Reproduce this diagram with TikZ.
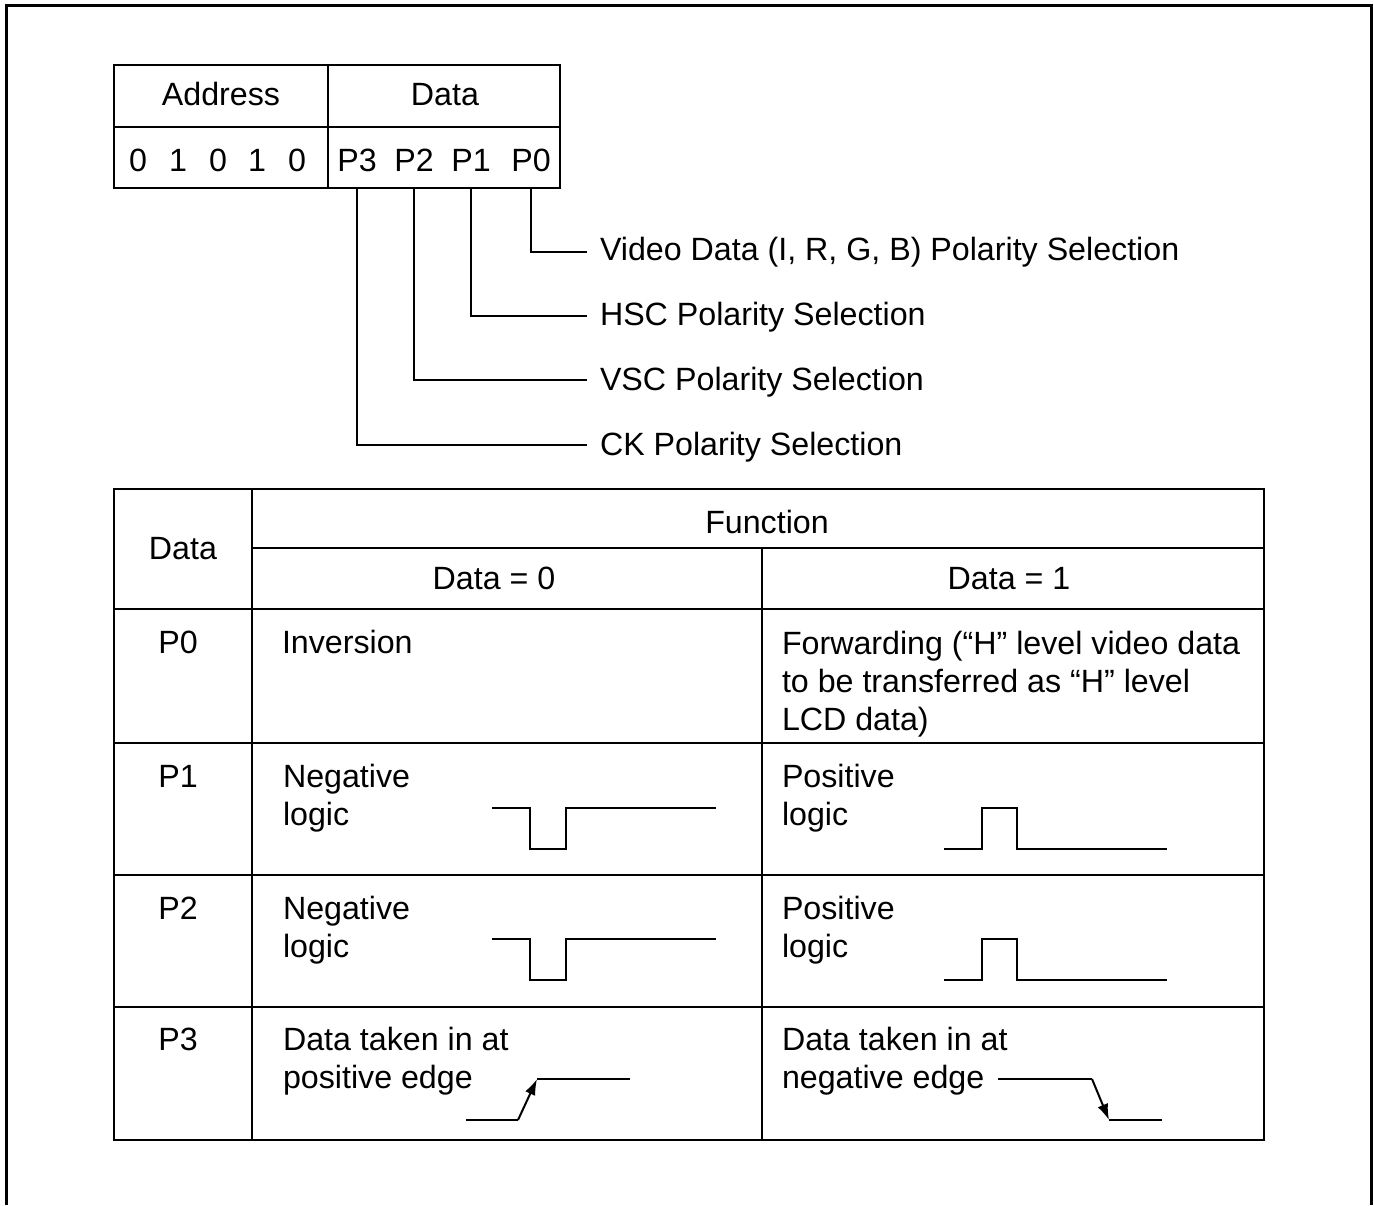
\documentclass[tikz,border=0pt]{standalone}
\usepackage{fontspec}
\setmainfont{Liberation Sans}
\usetikzlibrary{arrows.meta}
\begin{document}
\begin{tikzpicture}[x=0.5pt,y=-0.5pt,
  every node/.style={font=\fontsize{16.1}{19}\selectfont, inner sep=0pt, outer sep=0pt},
  txt/.style={anchor=base},
  ltxt/.style={anchor=base west, align=left},
  frame/.style={line width=1.5pt},
  grid/.style={line width=1pt},
  lead/.style={line width=0.7pt},
  wave/.style={line width=1pt},
  edge/.style={line width=1pt, -{Latex[length=8pt,width=5.5pt]}}]
\useasboundingbox (0,0) rectangle (1374,1205);

% outer frame, open at the bottom
\draw[frame] (6,1205) -- (6,5) -- (1371,5) -- (1371,1205);

% ---- register layout ----
\draw[grid] (114,65) rectangle (560,188);
\draw[grid] (114,127) -- (560,127);
\draw[grid] (328,65) -- (328,188);
\node[txt] (hAddr) at (221,105) {Address};
\node[txt] (hData) at (445,105) {Data};
\node[txt] (a4) at (138,171) {0};
\node[txt] (a3) at (178,171) {1};
\node[txt] (a2) at (218,171) {0};
\node[txt] (a1) at (257,171) {1};
\node[txt] (a0) at (297,171) {0};
\node[txt] (d3) at (357,171) {P3};
\node[txt] (d2) at (414,171) {P2};
\node[txt] (d1) at (471,171) {P1};
\node[txt] (d0) at (531,171) {P0};
\coordinate (regbot) at (0,188);

% ---- bit descriptions ----
\node[ltxt] (l0) at (600,260) {Video Data (I, R, G, B) Polarity Selection};
\node[ltxt] (l1) at (600,325) {HSC Polarity Selection};
\node[ltxt] (l2) at (600,390) {VSC Polarity Selection};
\node[ltxt] (l3) at (600,455) {CK Polarity Selection};
\draw[lead] (d0 |- regbot) |- ([shift={(-13,-8)}]l0.base west);
\draw[lead] (d1 |- regbot) |- ([shift={(-13,-9)}]l1.base west);
\draw[lead] (d2 |- regbot) |- ([shift={(-13,-10)}]l2.base west);
\draw[lead] (d3 |- regbot) |- ([shift={(-13,-10)}]l3.base west);

% ---- function table grid ----
\draw[grid] (114,489) rectangle (1264,1140);
\draw[grid] (252,489) -- (252,1140);
\draw[grid] (762,548) -- (762,1140);
\draw[grid] (252,548) -- (1264,548);
\foreach \yy in {609,743,875,1007} \draw[grid] (114,\yy) -- (1264,\yy);

% header
\node[txt] (tData) at (183,559) {Data};
\node[txt] (tFunc) at (767,533) {Function};
\node[txt] (tZero) at (494,589) {Data = 0};
\node[txt] (tOne) at (1009,589) {Data = 1};

% row labels
\node[txt] (r0) at (178,653) {P0};
\node[txt] (r1) at (178,787) {P1};
\node[txt] (r2) at (178,919) {P2};
\node[txt] (r3) at (178,1050) {P3};

% multi-line cells are placed by the baseline of their last line
% P0
\node[ltxt] (c00) at (282,653) {Inversion};
\node[ltxt] (c01) at (782,730) {Forwarding (“H” level video data\\to be transferred as “H” level\\LCD data)};

% P1
\node[ltxt] (c10) at (283,825) {Negative\\logic};
\node[ltxt] (c11) at (782,825) {Positive\\logic};
\draw[wave] (492,808) -- (530,808) -- (530,849) -- (566,849) -- (566,808) -- (716,808);
\draw[wave] (944,849) -- (982,849) -- (982,808) -- (1017,808) -- (1017,849) -- (1167,849);

% P2
\node[ltxt] (c20) at (283,957) {Negative\\logic};
\node[ltxt] (c21) at (782,957) {Positive\\logic};
\draw[wave] (492,939) -- (530,939) -- (530,980) -- (566,980) -- (566,939) -- (716,939);
\draw[wave] (944,980) -- (982,980) -- (982,939) -- (1017,939) -- (1017,980) -- (1167,980);

% P3
\node[ltxt] (c30) at (283,1088) {Data taken in at\\positive edge};
\node[ltxt] (c31) at (782,1088) {Data taken in at\\negative edge};
\draw[wave] (466,1120) -- (518,1120);
\draw[edge] (518,1120) -- (537,1079);
\draw[wave] (537,1079) -- (630,1079);
\draw[wave] (998,1079) -- (1092,1079);
\draw[edge] (1092,1079) -- (1109,1120);
\draw[wave] (1109,1120) -- (1162,1120);
\end{tikzpicture}
\end{document}
